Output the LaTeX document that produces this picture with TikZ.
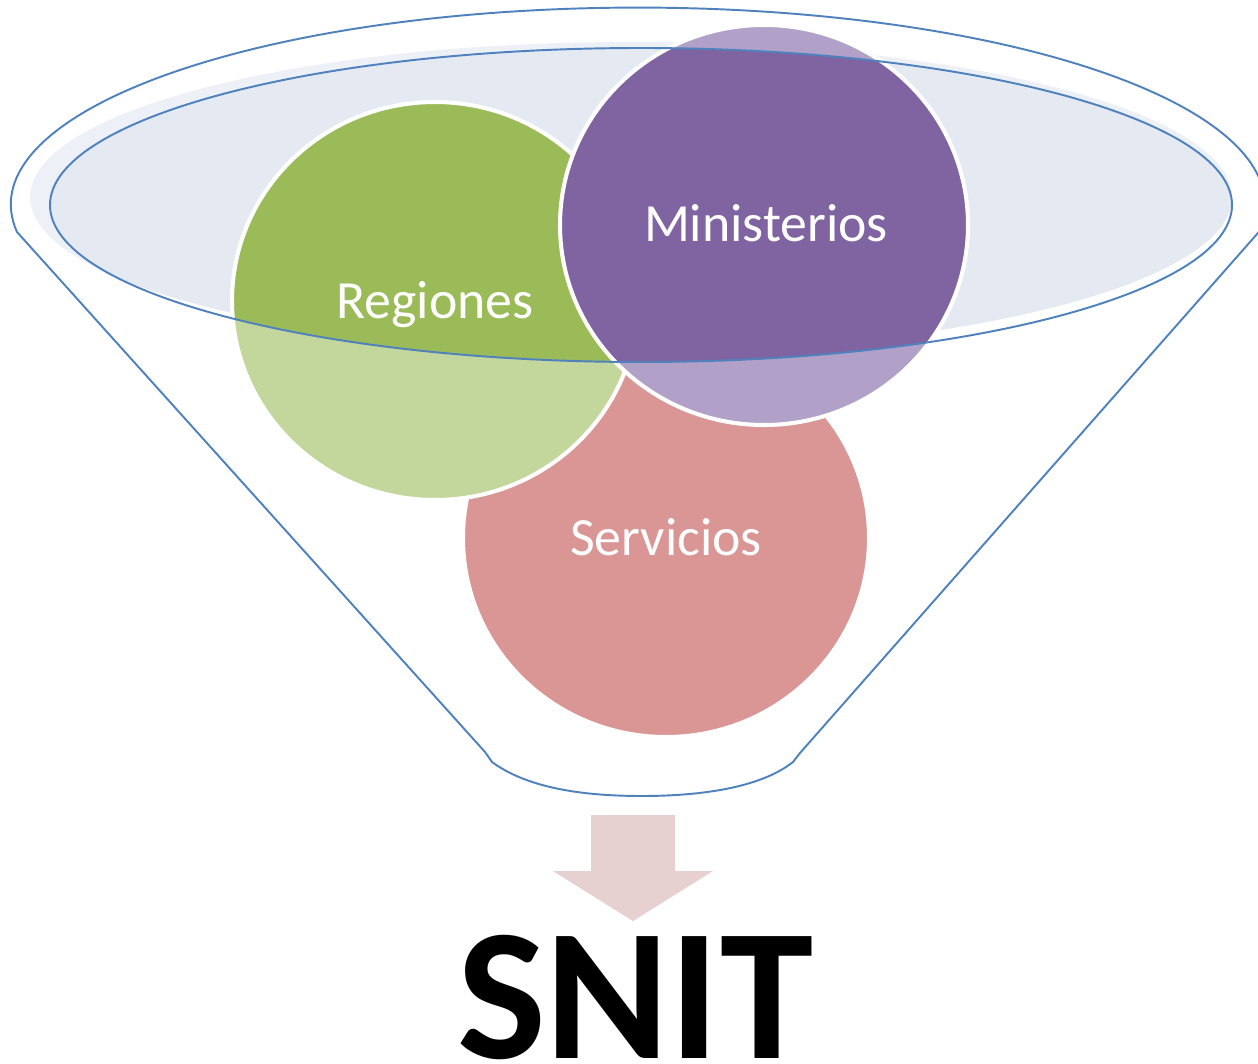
\documentclass[tikz,border=0pt]{standalone}
\usepackage{fontspec}
\setmainfont{Carlito}
\definecolor{funnelblue}{RGB}{79,129,189}
\definecolor{rimfill}{RGB}{228,233,242}
\definecolor{rimglow}{RGB}{237,240,247}
\definecolor{greendark}{RGB}{155,187,89}
\definecolor{greenlight}{RGB}{195,214,155}
\definecolor{purpledark}{RGB}{128,100,162}
\definecolor{purplelight}{RGB}{177,160,199}
\definecolor{redlight}{RGB}{217,150,148}
\definecolor{arrowpink}{RGB}{230,208,208}

\begin{document}
\begin{tikzpicture}[x=0.02cm,y=-0.02cm,
  funnelline/.style={draw=funnelblue,line width=1.1pt},
  bubble/.style={draw=white,line width=2.3pt},
  bubbletext/.style={text=white,font=\fontsize{30.6}{36}\selectfont,anchor=base}]
  \useasboundingbox (0,0) rectangle (1258,1064);
  \fill[rimglow] (631,197) circle[x radius=601,y radius=155];
  \begin{scope}
    \clip (631,197) circle[x radius=601,y radius=155];
    \fill[rimfill] (641,205) circle[x radius=591,y radius=157];
  \end{scope}
  \filldraw[bubble,fill=redlight] (666,538) circle[x radius=203,y radius=199];
  \fill[greenlight] (435,301) circle[x radius=203,y radius=199];
  \begin{scope}
    \clip (641,205) circle[x radius=591,y radius=157];
    \fill[greendark] (435,301) circle[x radius=203,y radius=199];
  \end{scope}
  \draw[bubble] (435,301) circle[x radius=203,y radius=199];
  \fill[purplelight] (764,225) circle[x radius=204,y radius=200];
  \begin{scope}
    \clip (641,205) circle[x radius=591,y radius=157];
    \fill[purpledark] (764,225) circle[x radius=204,y radius=200];
  \end{scope}
  \draw[bubble] (764,225) circle[x radius=204,y radius=200];
  \draw[funnelline] (641,205) circle[x radius=591,y radius=157];
  \draw[funnelline] (17,232) arc[start angle=172,end angle=368,x radius=627,y radius=197]
    -- (800,753) .. controls (797,758) .. (793,762)
    .. controls (760,788) and (700,796) .. (642,796)
    .. controls (590,796) and (530,790) .. (492,762)
    .. controls (488,757) .. (485,752) -- cycle;
  \node[bubbletext] (regiones) at (435,318) {Regiones};
  \node[bubbletext] (ministerios) at (766,242) {Ministerios};
  \node[bubbletext] (servicios) at (666,555) {Servicios};
  \fill[arrowpink] (591,815) -- (675,815) -- (675,871) -- (713,871) -- (633,921)
    -- (553,871) -- (591,871) -- cycle;
  \node[font=\fontsize{107}{120}\selectfont\bfseries,anchor=base,inner sep=0pt] (snit) at (635,1058) {SNIT};
\end{tikzpicture}
\end{document}
